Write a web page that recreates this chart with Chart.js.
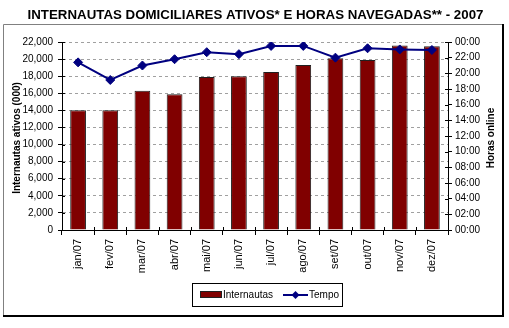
<!DOCTYPE html>
<html>
<head>
<meta charset="utf-8">
<script src="https://cdn.jsdelivr.net/npm/chart.js@4.4.0/dist/chart.umd.min.js"></script>
<style>
  html, body { margin: 0; padding: 0; background: #fff; }
  #wrap { width: 509px; height: 328px; position: relative; }
</style>
</head>
<body>
<div id="wrap"><canvas id="c"></canvas></div>
<script>
const categories = ['jan/07','fev/07','mar/07','abr/07','mai/07','jun/07','jul/07','ago/07','set/07','out/07','nov/07','dez/07'];
const internautas = [14000, 14000, 16300, 15900, 17900, 18000, 18500, 19300, 20100, 19900, 21600, 21500];
// hours navigated (decimal hours)
const tempoHoras = [21.4, 19.15, 21.0, 21.8, 22.7, 22.45, 23.5, 23.5, 22.0, 23.2, 23.05, 22.98];
const leftTicksMax = 22000;
const leftTicksStep = 2000;
const rightTicksMax = 24;
const rightTicksStep = 2;

const titleText = 'INTERNAUTAS DOMICILIARES ATIVOS* E HORAS NAVEGADAS** - 2007';
const FONT = '"Liberation Sans", Arial, sans-serif';

function fmtHour(v) {
  const h = Math.floor(v) % 24;
  const m = Math.round((v - Math.floor(v)) * 60);
  return String(h).padStart(2, '0') + ':' + String(m).padStart(2, '0');
}

const decorPlugin = {
  id: 'decor',
  afterDraw(chart) {
    const ctx = chart.ctx;
    const area = chart.chartArea;
    ctx.save();
    // outer frame
    ctx.strokeStyle = '#808080';
    ctx.lineWidth = 1;
    ctx.beginPath();
    ctx.moveTo(3.5, 315);
    ctx.lineTo(3.5, 24.5);
    ctx.lineTo(503, 24.5);
    ctx.stroke();
    ctx.strokeStyle = '#000';
    ctx.lineWidth = 2;
    ctx.beginPath();
    ctx.moveTo(503, 24);
    ctx.lineTo(503, 316);
    ctx.lineTo(3, 316);
    ctx.stroke();

    // title
    ctx.fillStyle = '#000';
    ctx.font = 'bold 13.3px ' + FONT;
    ctx.textAlign = 'center';
    ctx.textBaseline = 'middle';
    ctx.fillText(titleText, 255.5, 15);

    // axis titles
    ctx.font = 'bold 10px ' + FONT;
    ctx.save();
    ctx.translate(17, 138);
    ctx.rotate(-Math.PI / 2);
    ctx.fillText('Internautas ativos (000)', 0, 0);
    ctx.restore();
    ctx.save();
    ctx.translate(491, 138);
    ctx.rotate(-Math.PI / 2);
    ctx.fillText('Horas online', 0, 0);
    ctx.restore();

    // inner tick parts (crossing ticks)
    ctx.strokeStyle = '#000';
    ctx.lineWidth = 1;
    const yl = chart.scales.y, yr = chart.scales.y1;
    ctx.beginPath();
    yl.ticks.forEach((t, i) => {
      const py = Math.round(yl.getPixelForTick(i)) + 0.5;
      ctx.moveTo(area.left, py); ctx.lineTo(area.left + 3, py);
    });
    yr.ticks.forEach((t, i) => {
      const py = Math.round(yr.getPixelForTick(i)) + 0.5;
      ctx.moveTo(area.right - 3, py); ctx.lineTo(area.right, py);
    });
    for (let i = 0; i <= categories.length; i++) {
      const px = Math.round(area.left + (area.right - area.left) * i / categories.length) + 0.5;
      ctx.moveTo(px, area.bottom - 3); ctx.lineTo(px, area.bottom);
    }
    ctx.stroke();

    // legend
    ctx.strokeStyle = '#000';
    ctx.lineWidth = 1;
    ctx.strokeRect(192.5, 283.5, 150, 23);
    ctx.fillStyle = '#800000';
    ctx.fillRect(200, 291, 22, 7);
    ctx.strokeStyle = '#202020';
    ctx.strokeRect(200.5, 291.5, 21, 6);
    ctx.fillStyle = '#000';
    ctx.font = '10px ' + FONT;
    ctx.textAlign = 'left';
    ctx.textBaseline = 'middle';
    ctx.fillText('Internautas', 223, 295);
    ctx.strokeStyle = '#000080';
    ctx.lineWidth = 2;
    ctx.beginPath();
    ctx.moveTo(283, 295); ctx.lineTo(308, 295);
    ctx.stroke();
    ctx.fillStyle = '#000080';
    ctx.beginPath();
    ctx.moveTo(291.5, 295); ctx.lineTo(295.5, 291); ctx.lineTo(299.5, 295); ctx.lineTo(295.5, 299);
    ctx.closePath();
    ctx.fill();
    ctx.fillStyle = '#000';
    ctx.fillText('Tempo', 309, 295);
    ctx.restore();
  }
};

new Chart(document.getElementById('c'), {
  data: {
    labels: categories,
    datasets: [
      {
        type: 'line',
        label: 'Tempo',
        data: tempoHoras,
        yAxisID: 'y1',
        borderColor: '#000080',
        backgroundColor: '#000080',
        borderWidth: 2,
        pointStyle: 'rectRot',
        pointRadius: 4.5,
        pointBorderWidth: 1,
        tension: 0,
        order: 0
      },
      {
        type: 'bar',
        label: 'Internautas',
        data: internautas,
        yAxisID: 'y',
        backgroundColor: '#800000',
        borderColor: '#202020',
        borderWidth: 1,
        categoryPercentage: 1,
        barPercentage: 0.49,
        order: 1
      }
    ]
  },
  options: {
    responsive: true,
    maintainAspectRatio: false,
    animation: false,
    layout: { padding: { left: 0, right: 0, top: 42, bottom: 48 } },
    plugins: { legend: { display: false }, title: { display: false }, tooltip: { enabled: false } },
    scales: {
      x: {
        position: 'bottom',
        offset: true,
        afterFit(s) { s.height = 50; },
        grid: { offset: true, drawOnChartArea: false, tickColor: '#000', tickLength: 5 },
        border: { color: '#000', width: 1 },
        ticks: { minRotation: 90, maxRotation: 90, padding: 4, color: '#000', font: { family: FONT, size: 11 } }
      },
      y: {
        position: 'left',
        min: 0, max: leftTicksMax,
        afterFit(s) { s.width = 62; },
        grid: { color: '#a0a0a0', tickColor: '#000', tickLength: 4, lineWidth: 1 },
        border: { color: '#000', width: 1, dash: [3, 3] },
        ticks: { stepSize: leftTicksStep, padding: 5, color: '#000', font: { family: FONT, size: 10 } }
      },
      y1: {
        position: 'right',
        min: 0, max: rightTicksMax,
        afterFit(s) { s.width = 61; },
        grid: { drawOnChartArea: false, tickColor: '#000', tickLength: 4 },
        border: { color: '#000', width: 1 },
        ticks: { stepSize: rightTicksStep, padding: 3, color: '#000', font: { family: FONT, size: 10 },
                 callback: (v) => fmtHour(v) }
      }
    }
  },
  plugins: [decorPlugin]
});
</script>
</body>
</html>
